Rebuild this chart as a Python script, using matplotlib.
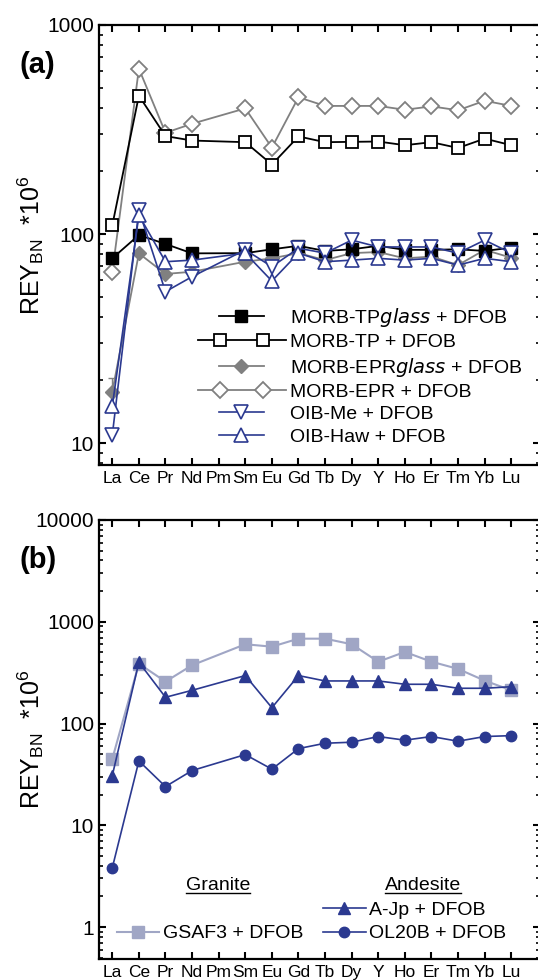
import matplotlib
matplotlib.use("Agg")
import matplotlib.pyplot as plt
import numpy as np
from matplotlib.legend_handler import HandlerBase
from matplotlib.lines import Line2D

plt.rcParams['font.family'] = ['Liberation Sans', 'DejaVu Sans']
plt.rcParams['mathtext.default'] = 'regular'

elements = ["La", "Ce", "Pr", "Nd", "Pm", "Sm", "Eu", "Gd", "Tb", "Dy",
            "Y", "Ho", "Er", "Tm", "Yb", "Lu"]
nan = np.nan

# (a) MORB / OIB leached with DFOB
morb_tp_glass = [76.5, 98.9, 89.6, 80.8, nan, 81, 84.5, 87.8, 83, 84.5, 87.8, 84, 84, 84.5, 83, 86]
morb_tp = [110, 459, 294, 280, nan, 275, 215, 293, 275, 276, 277, 266, 275, 258, 286, 266]
morb_epr_glass = [17.6, 80.8, 64.4, 66, nan, 73.7, 76.5, 81, 75, 81, 82, 76.5, 78, 71, 84, 77]
morb_epr_glass_err = 2.9   # La only
morb_epr = [65.6, 618, 305, 337, nan, 399, 259, 451, 410, 410, 410, 393, 408, 391, 434, 410]
oib_me = [10.9, 130, 53, 62.5, nan, 84, 69.8, 85.5, 81, 93.5, 86.7, 86.7, 86.7, 81, 93.5, 81]
oib_haw = [15, 123, 73.7, 75, nan, 81, 59.6, 81, 73.7, 75, 76.5, 75, 76.5, 71, 76.5, 73.7]

# (b) granite / andesite leached with DFOB
gsaf3 = [44.9, 387, 258, 374, nan, 601, 569, 682, 682, 601, 405, 505, 405, 344, 264, 212]
a_jp = [30.8, 400, 181, 212, nan, 296, 143, 296, 262, 262, 262, 243, 243, 222, 222, 230]
ol20b = [3.82, 42.9, 24, 34.5, nan, 49.5, 35.6, 56.7, 64, 65.5, 74.5, 68.6, 74.5, 67, 74.5, 76]

BLUE = '#2b3990'
GREY = '#808080'
LIGHT = '#a0a6c5'

x = np.arange(1, len(elements) + 1)


def series(v):
    # skip Pm so the line joins Nd to Sm
    v = np.asarray(v, dtype=float)
    m = ~np.isnan(v)
    return x[m], v[m]


class SpanHandler(HandlerBase):
    """legend key: line over part of the handle box, markers at given fractions"""
    def __init__(self, span=(0.0, 1.0), marks=(0.5,)):
        super().__init__()
        self.span = span
        self.marks = marks

    def create_artists(self, legend, orig_handle, xdescent, ydescent,
                       width, height, fontsize, trans):
        x0 = -xdescent
        y = (height - ydescent) / 2
        line = Line2D([x0 + self.span[0] * width, x0 + self.span[1] * width], [y, y])
        self.update_prop(line, orig_handle, legend)
        line.set_marker('None')
        pts = Line2D([x0 + f * width for f in self.marks], [y] * len(self.marks))
        self.update_prop(pts, orig_handle, legend)
        pts.set_linestyle('None')
        line.set_transform(trans)
        pts.set_transform(trans)
        return [line, pts]


def style_axes(ax, ylim, ylabel):
    ax.set_yscale('log')
    ax.set_xlim(0.5, 17.08)
    ax.set_ylim(*ylim)
    ax.set_xticks(x)
    ax.set_xticklabels(elements, fontsize=12.5)
    ax.tick_params(axis='x', which='both', direction='in', top=True, length=5,
                   width=1.5, pad=4)
    ax.tick_params(axis='y', which='major', direction='in', right=True,
                   length=5, width=1.5, labelsize=15)
    ax.tick_params(axis='y', which='minor', direction='in', right=True,
                   length=3, width=1.2)
    ax.yaxis.set_major_locator(matplotlib.ticker.LogLocator(base=10))
    ax.yaxis.set_minor_locator(matplotlib.ticker.LogLocator(base=10, subs=np.arange(2, 10)))
    ax.yaxis.set_minor_formatter(matplotlib.ticker.NullFormatter())
    ax.yaxis.set_major_formatter(matplotlib.ticker.FuncFormatter(lambda v, p: f"{v:g}"))
    for sp in ax.spines.values():
        sp.set_linewidth(1.6)
    ax.set_ylabel(ylabel, fontsize=18)
    ax.yaxis.set_label_coords(-0.12, 0.5)


fig = plt.figure(figsize=(5.38, 9.8), dpi=100)
ax1 = fig.add_axes([0.184, 0.5255, 0.8197, 0.449])
ax2 = fig.add_axes([0.184, 0.0214, 0.8197, 0.448])

ylab = r'REY$_{BN}$  *10$^{6}$'

# ---- panel (a)
l1, = ax1.plot(*series(morb_tp_glass), '-s', color='black', mfc='black', ms=8, lw=1.3,
               label=r'MORB-TP$\it{glass}$ + DFOB', zorder=5)
l2, = ax1.plot(*series(morb_tp), '-s', color='black', mfc='white', ms=9, mew=1.3, lw=1.3,
               label='MORB-TP + DFOB', zorder=4)
l3, = ax1.plot(*series(morb_epr_glass), '-D', color=GREY, mfc=GREY, ms=7, lw=1.3,
               label=r'MORB-EPR$\it{glass}$ + DFOB', zorder=3)
ax1.errorbar(x[0], morb_epr_glass[0], yerr=[[0], [morb_epr_glass_err]], color=GREY,
             capsize=3, lw=1, zorder=3)
l4, = ax1.plot(*series(morb_epr), '-D', color=GREY, mfc='white', ms=8.5, mew=1.3, lw=1.3,
               label='MORB-EPR + DFOB', zorder=3)
l5, = ax1.plot(*series(oib_me), '-v', color=BLUE, mfc='white', ms=10, mew=1.2, lw=1.2,
               label='OIB-Me + DFOB', zorder=6)
l6, = ax1.plot(*series(oib_haw), '-^', color=BLUE, mfc='white', ms=10, mew=1.2, lw=1.2,
               label='OIB-Haw + DFOB', zorder=6)

style_axes(ax1, (7.85, 1000), ylab)
short = SpanHandler(span=(0.24, 0.75), marks=(0.49,))
pair = SpanHandler(span=(0.0, 1.0), marks=(0.25, 0.74))
hm = {l1: short, l3: short, l5: short, l6: short, l2: pair, l4: pair}
ax1.legend(handles=[l1, l2, l3, l4, l5, l6], handler_map=hm, loc='upper left',
           bbox_to_anchor=(0.2245, 0.362), frameon=False, fontsize=14,
           handlelength=4.54, handletextpad=0.2, labelspacing=0.24, borderpad=0,
           borderaxespad=0)
ax1.text(-0.18, 0.89, '(a)', transform=ax1.transAxes, fontsize=21, fontweight='bold')

# ---- panel (b)
g1, = ax2.plot(*series(gsaf3), '-s', color=LIGHT, mfc=LIGHT, ms=8, lw=1.5,
               label='GSAF3 + DFOB', zorder=3)
g2, = ax2.plot(*series(a_jp), '-^', color=BLUE, mfc=BLUE, ms=9, lw=1.2,
               label='A-Jp + DFOB', zorder=4)
g3, = ax2.plot(*series(ol20b), '-o', color=BLUE, mfc=BLUE, ms=7.5, lw=1.2,
               label='OL20B + DFOB', zorder=4)

style_axes(ax2, (0.485, 10000), ylab)
blank = Line2D([], [], color='none')
ax2.legend(handles=[blank, g1, g2, g3], labels=['', 'GSAF3 + DFOB', 'A-Jp + DFOB', 'OL20B + DFOB'],
           ncol=2, loc='lower left', bbox_to_anchor=(0.04, 0.038), frameon=False,
           fontsize=14, handlelength=2.2, handletextpad=0.18, labelspacing=0.32,
           columnspacing=1.0, borderpad=0, borderaxespad=0)
ax2.text(-0.18, 0.89, '(b)', transform=ax2.transAxes, fontsize=21, fontweight='bold')

heads = [ax2.text(0.27, 0.157, 'Granite', transform=ax2.transAxes, fontsize=14, ha='center'),
         ax2.text(0.735, 0.157, 'Andesite', transform=ax2.transAxes, fontsize=14, ha='center')]

# underline the group headers
fig.canvas.draw()
inv = fig.transFigure.inverted()
for t in heads:
    bb = t.get_window_extent()
    (x0, y0), (x1, _) = inv.transform([[bb.x0, bb.y0], [bb.x1, bb.y1]])
    fig.add_artist(Line2D([x0, x1], [y0 + 0.0012, y0 + 0.0012], color='black', lw=1.0,
                          transform=fig.transFigure))

fig.savefig('out.png', dpi=100)
